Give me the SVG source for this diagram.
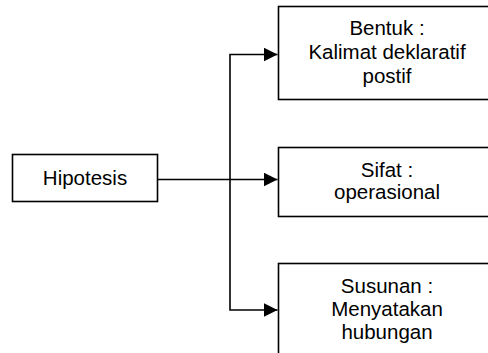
<svg xmlns="http://www.w3.org/2000/svg" width="488" height="353" viewBox="0 0 488 353">
  <defs>
    <style>
      .box { fill: #ffffff; stroke: #000000; stroke-width: 1.6; }
      .lbl { font-family: "Liberation Sans", Arial, sans-serif; font-size: 20.5px; fill: #000000; text-anchor: middle; }
      .wire { fill: none; stroke: #000000; stroke-width: 1.6; }
    </style>
    <marker id="arrow" viewBox="0 0 14 14" refX="14" refY="7" markerWidth="14" markerHeight="14" markerUnits="userSpaceOnUse" orient="auto">
      <path d="M0,0 L14,7 L0,14 Z" fill="#000000"/>
    </marker>
  </defs>
  <rect width="488" height="353" fill="#ffffff"/>

  <!-- connectors: trunk from Hipotesis fanning out to the three properties -->
  <g id="connectors">
    <path class="wire" d="M158,179.5 H277.5" marker-end="url(#arrow)"/>
    <path class="wire" d="M230,179.5 V54.5 H277.5" marker-end="url(#arrow)"/>
    <path class="wire" d="M230,179.5 V310 H277.5" marker-end="url(#arrow)"/>
  </g>

  <g id="hipotesis">
    <rect class="box" x="12.5" y="154.5" width="145" height="47"/>
    <text class="lbl" x="85" y="184.5">Hipotesis</text>
  </g>

  <g id="bentuk">
    <rect class="box" x="278.5" y="6.5" width="220" height="93"/>
    <text class="lbl" x="387" y="35">Bentuk :</text>
    <text class="lbl" x="387" y="59">Kalimat deklaratif</text>
    <text class="lbl" x="387" y="83">postif</text>
  </g>

  <g id="sifat">
    <rect class="box" x="278.5" y="147.5" width="220" height="69"/>
    <text class="lbl" x="387" y="177">Sifat :</text>
    <text class="lbl" x="387" y="199">operasional</text>
  </g>

  <g id="susunan">
    <rect class="box" x="278.5" y="263.5" width="220" height="100"/>
    <text class="lbl" x="387" y="293">Susunan :</text>
    <text class="lbl" x="387" y="316">Menyatakan</text>
    <text class="lbl" x="387" y="339">hubungan</text>
  </g>
</svg>
